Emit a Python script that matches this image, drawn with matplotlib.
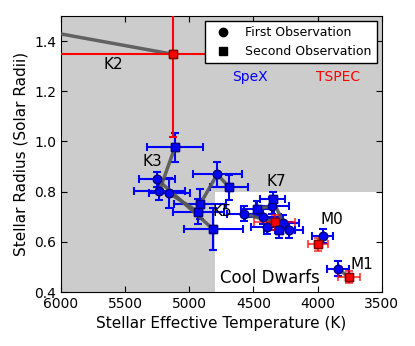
import matplotlib
matplotlib.use("Agg")
import matplotlib.pyplot as plt
from matplotlib.patches import Rectangle
from matplotlib.lines import Line2D

# First observations (circles, SpeX)
first_T = [6300, 5250, 5234, 5157, 4783, 4575, 4354, 4424, 4269, 4393, 4222, 3962, 3840]
first_R = [1.456, 0.849, 0.802, 0.793, 0.869, 0.711, 0.744, 0.700, 0.676, 0.660, 0.647, 0.624, 0.492]
first_Terr = [100, 140, 200, 160, 190, 130, 130, 140, 120, 130, 110, 82, 88]
first_Rerr = [0.03, 0.03, 0.035, 0.06, 0.05, 0.03, 0.035, 0.03, 0.03, 0.03, 0.03, 0.027, 0.03]

# Second observations (squares)
second_T = [5125, 5112, 4917, 4931, 4814, 4689, 4351, 4471, 4333, 4300, 3996, 3755]
second_R = [1.347, 0.977, 0.749, 0.720, 0.650, 0.818, 0.769, 0.731, 0.678, 0.647, 0.590, 0.459]
second_Terr = [1000, 218, 200, 200, 230, 150, 100, 130, 160, 120, 78, 85]
second_Rerr = [0.33, 0.058, 0.06, 0.05, 0.084, 0.05, 0.03, 0.03, 0.03, 0.03, 0.025, 0.025]
second_inst = ["TSPEC", "SpeX", "SpeX", "SpeX", "SpeX", "SpeX", "SpeX", "SpeX", "TSPEC", "SpeX", "TSPEC", "TSPEC"]

# pairs (first index, second index)
pairs = [(0, 0), (2, 1), (1, 4), (3, 3), (4, 2), (4, 5), (5, 8), (6, 7), (8, 6), (7, 9), (11, 10), (12, 11)]

labels = ["K2", "K3", "K5", "K7", "M0", "M1"]
label_T = [5593, 5286, 4744, 4320, 3892, 3656]
label_R = [1.307, 0.919, 0.720, 0.839, 0.687, 0.508]

fig = plt.figure(figsize=(4.15, 3.46), dpi=100)
ax = fig.add_axes([0.147, 0.156, 0.773, 0.798])
ax.set_facecolor("#cccccc")
ax.add_patch(Rectangle((4800, 0.4), 3500 - 4800, 0.4, facecolor="white", edgecolor="none", zorder=0.5))

colors = {"SpeX": "blue", "TSPEC": "red"}

for i in range(len(first_T)):
    ax.errorbar(first_T[i], first_R[i], xerr=first_Terr[i], yerr=first_Rerr[i],
                fmt="o", color="blue", ecolor="blue", mec="#000080", ms=6,
                elinewidth=1.5, capsize=3, capthick=1.5, zorder=2)

for i in range(len(second_T)):
    c = colors[second_inst[i]]
    ec = "#800000" if c == "red" else "#000080"
    alpha_e = 1.0 if i == 0 else (0.65 if c == "red" else 1.0)
    eb = ax.errorbar(second_T[i], second_R[i], xerr=second_Terr[i], yerr=second_Rerr[i],
                     fmt="s", color=c, ecolor=c, mec=ec, ms=6,
                     elinewidth=1.5, capsize=3, capthick=1.5, zorder=4 if c == "red" else 2)
    for part in eb[1] + eb[2]:
        part.set_alpha(alpha_e)

for a, b in pairs:
    ax.plot([first_T[a], second_T[b]], [first_R[a], second_R[b]], color="#555555",
            lw=2.5, alpha=0.9, zorder=3, solid_capstyle="butt")

# redraw markers on top of lines
for i in range(len(first_T)):
    ax.plot(first_T[i], first_R[i], "o", color="blue", mec="#000080", ms=6, zorder=5)
for i in range(len(second_T)):
    c = colors[second_inst[i]]
    ax.plot(second_T[i], second_R[i], "s", color=c, mec="#800000" if c == "red" else "#000080", ms=6, zorder=5)

for t, x, y in zip(labels, label_T, label_R):
    ax.text(x, y, t, fontsize=11, ha="center", va="center", zorder=6)

ax.text(4528, 1.257, "SpeX", color="blue", fontsize=10, ha="center", va="center")
ax.text(3843, 1.257, "TSPEC", color="red", fontsize=10, ha="center", va="center")
ax.text(4372, 0.455, "Cool Dwarfs", fontsize=12, ha="center", va="center", zorder=6)

ax.set_xlim(6000, 3500)
ax.set_ylim(0.4, 1.5)
ax.set_xticks([6000, 5500, 5000, 4500, 4000, 3500])
ax.set_yticks([0.4, 0.6, 0.8, 1.0, 1.2, 1.4])
ax.tick_params(direction="in", top=True, right=True, labelsize=10, length=4)
ax.set_xlabel("Stellar Effective Temperature (K)", fontsize=11)
ax.set_ylabel("Stellar Radius (Solar Radii)", fontsize=11)

handles = [Line2D([], [], marker="o", color="black", ls="none", ms=6),
           Line2D([], [], marker="s", color="black", ls="none", ms=6)]
leg = ax.legend(handles, ["First Observation", "Second Observation"], loc="upper right",
                fontsize=9, numpoints=1, fancybox=False, framealpha=1, edgecolor="black",
                borderaxespad=0.4)
leg.get_frame().set_linewidth(1.0)
leg.set_zorder(10)

fig.savefig("out.png", dpi=100)
